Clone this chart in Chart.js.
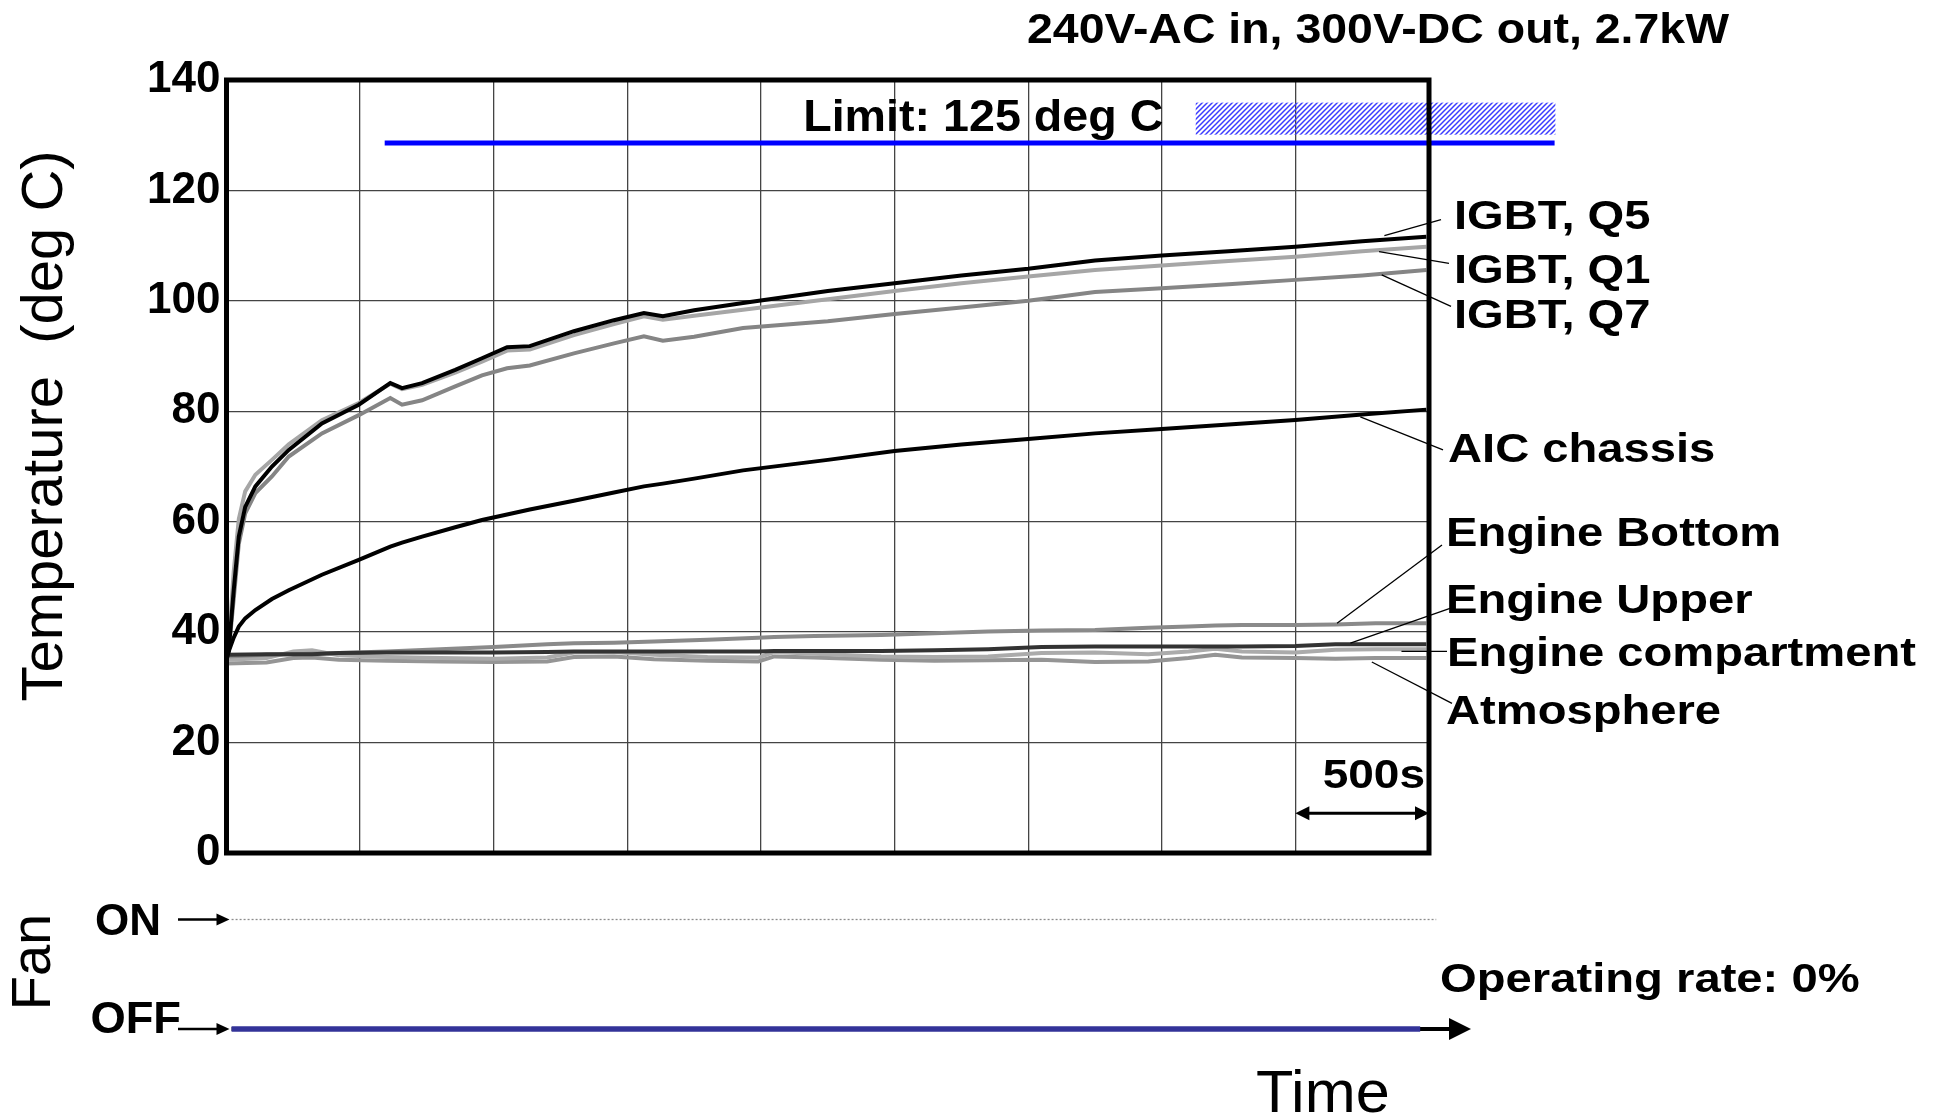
<!DOCTYPE html>
<html>
<head>
<meta charset="utf-8">
<script src="https://cdn.jsdelivr.net/npm/chart.js@4.4.1/dist/chart.umd.min.js"></script>
<style>
  html, body { margin: 0; padding: 0; background: #fff; }
  #page { position: relative; width: 1941px; height: 1117px; overflow: hidden; }
  #tempChart { position: absolute; left: 0; top: 0; }
  #fanChart { position: absolute; left: 0; top: 880px; }
</style>
</head>
<body>
<div id="page">
  <canvas id="tempChart" width="1941" height="900"></canvas>
  <canvas id="fanChart" width="1941" height="237"></canvas>
</div>
<script>
// time in seconds, one grid division = 500 s
var timeHot = [0, 8, 27, 46, 70, 108, 170, 233, 357, 495, 613, 657, 732, 856, 956, 1050, 1135, 1300, 1450, 1562, 1633, 1750, 1933, 2250, 2500, 2750, 3000, 3250, 3500, 3750, 4000, 4250, 4490];
var igbtQ5 = [35.0, 36.5, 47.6, 57.3, 62.7, 66.4, 70.0, 73.0, 77.8, 81.2, 85.1, 84.2, 85.1, 87.5, 89.6, 91.6, 91.8, 94.5, 96.5, 97.8, 97.2, 98.3, 99.6, 101.8, 103.2, 104.6, 105.8, 107.3, 108.2, 109.0, 109.8, 110.8, 111.6];
var igbtQ1 = [35.0, 37.5, 51.0, 60.5, 65.5, 68.5, 71.2, 74.0, 78.4, 81.5, 85.0, 84.0, 84.8, 87.0, 89.0, 91.0, 91.2, 93.8, 95.8, 97.2, 96.6, 97.3, 98.4, 100.3, 101.8, 103.2, 104.4, 105.6, 106.4, 107.2, 108.0, 109.0, 109.8];
var igbtQ7 = [35.0, 36.5, 46.0, 56.0, 61.5, 65.2, 68.2, 71.8, 76.0, 79.3, 82.4, 81.2, 82.0, 84.5, 86.5, 87.8, 88.3, 90.5, 92.3, 93.6, 92.8, 93.5, 95.1, 96.3, 97.6, 98.8, 100.0, 101.6, 102.3, 103.0, 103.8, 104.6, 105.6];
var aicChassis = [35.0, 36.5, 39.0, 41.0, 42.5, 44.0, 46.0, 47.6, 50.4, 53.1, 55.5, 56.2, 57.3, 59.0, 60.3, 61.3, 62.2, 63.8, 65.3, 66.4, 66.9, 67.8, 69.3, 71.2, 72.8, 74.0, 75.0, 76.0, 76.8, 77.6, 78.4, 79.4, 80.3];

var timeLow = [0, 150, 250, 320, 420, 600, 800, 1000, 1200, 1300, 1450, 1600, 1800, 1990, 2050, 2200, 2450, 2650, 2850, 3050, 3250, 3450, 3600, 3700, 3800, 4000, 4150, 4300, 4490];
var engineBottom = [35.6, 35.9, 36.0, 36.1, 36.2, 36.5, 36.9, 37.3, 37.8, 38.0, 38.1, 38.3, 38.6, 39.0, 39.1, 39.3, 39.5, 39.8, 40.1, 40.3, 40.4, 40.8, 41.0, 41.2, 41.3, 41.3, 41.4, 41.6, 41.6];
var engineUpper = [35.9, 36.0, 36.0, 36.0, 36.2, 36.3, 36.3, 36.3, 36.4, 36.5, 36.5, 36.5, 36.5, 36.5, 36.6, 36.6, 36.6, 36.7, 36.9, 37.3, 37.4, 37.4, 37.4, 37.4, 37.4, 37.5, 37.8, 37.8, 37.8];
var engineCompartment = [35.0, 35.3, 36.5, 36.7, 35.8, 35.5, 35.3, 35.2, 35.4, 36.3, 36.4, 35.9, 35.5, 35.4, 36.4, 36.1, 35.6, 35.5, 35.6, 36.2, 36.3, 36.0, 36.5, 37.0, 36.5, 36.3, 36.8, 36.9, 36.9];
var atmosphere = [34.3, 34.5, 35.3, 35.4, 35.0, 34.8, 34.7, 34.6, 34.7, 35.5, 35.6, 35.1, 34.8, 34.7, 35.6, 35.4, 35.0, 34.8, 34.9, 35.0, 34.6, 34.7, 35.3, 35.9, 35.4, 35.3, 35.2, 35.3, 35.3];

// limit marker as drawn in the figure
var limitTime = [592, 4970];
var limitTemp = [128.6, 128.6];
var limitBandTime = [3627, 4973];
var limitBandTemp = [130.1, 135.9];

// fan state: 0 = OFF, 1 = ON
var fanTime = [19, 4467];
var fanState = [0, 0];
var fanOnGuideTime = [19, 4527];

var yTicks = { min: 0, max: 140, step: 20 };
var timeAxis = { min: 0, max: 4500, step: 500 };

var seriesLabels = ['IGBT, Q5', 'IGBT, Q1', 'IGBT, Q7', 'AIC chassis', 'Engine Bottom', 'Engine Upper', 'Engine compartment', 'Atmosphere'];
// label placement: dx from plot right, baseline in deg C, leader start (dx, degC), leader end (s, degC)
var labelLayout = [
  { dx: 25, base: 113.0, from: [12, 114.7], to: [4333, 111.8] },
  { dx: 25, base: 103.2, from: [20, 106.8], to: [4313, 108.9] },
  { dx: 25, base: 95.1, from: [22, 99.0], to: [4323, 104.7] },
  { dx: 19, base: 70.9, from: [14, 73.0], to: [4243, 79.0] },
  { dx: 17, base: 55.6, from: [13, 55.8], to: [4156, 41.6] },
  { dx: 17, base: 43.4, from: [21, 44.3], to: [4206, 38.0] },
  { dx: 18, base: 33.8, from: [18, 36.5], to: [4397, 36.5] },
  { dx: 17, base: 23.4, from: [23, 27.1], to: [4286, 34.6] }
];

var FONT = "'Liberation Sans', Arial, Helvetica, sans-serif";

function pts(times, temps) {
  return times.map(function(t, i) { return { x: t, y: temps[i] }; });
}

function lineSet(label, times, temps, color, width) {
  return {
    label: label,
    data: pts(times, temps),
    borderColor: color,
    borderWidth: width,
    pointRadius: 0,
    fill: false,
    tension: 0
  };
}

function drawText(ctx, text, x, y, o) {
  ctx.save();
  ctx.font = o.font;
  ctx.fillStyle = o.color || '#000';
  ctx.textAlign = o.align || 'left';
  ctx.textBaseline = o.baseline || 'alphabetic';
  ctx.translate(x, y);
  if (o.rotate) ctx.rotate(o.rotate);
  ctx.scale(o.stretch || 1, 1);
  ctx.fillText(text, 0, 0);
  ctx.restore();
}

function arrowHead(ctx, x, y, dir, len, half) {
  ctx.beginPath();
  ctx.moveTo(x, y);
  ctx.lineTo(x - dir * len, y - half);
  ctx.lineTo(x - dir * len, y + half);
  ctx.closePath();
  ctx.fill();
}

function hatchPattern(ctx) {
  var c = document.createElement('canvas');
  c.width = 5; c.height = 5;
  var g = c.getContext('2d');
  g.strokeStyle = '#3b3bff';
  g.lineWidth = 1.5;
  g.beginPath();
  g.moveTo(0, 5); g.lineTo(5, 0);
  g.moveTo(-1, 1); g.lineTo(1, -1);
  g.moveTo(4, 6); g.lineTo(6, 4);
  g.stroke();
  return ctx.createPattern(c, 'repeat');
}

var tempDecor = {
  id: 'tempDecor',
  beforeDatasetsDraw: function(chart) {
    var ctx = chart.ctx, xs = chart.scales.x, ys = chart.scales.y;
    var x1 = xs.getPixelForValue(limitBandTime[0]), x2 = xs.getPixelForValue(limitBandTime[1]);
    var y1 = ys.getPixelForValue(limitBandTemp[1]), y2 = ys.getPixelForValue(limitBandTemp[0]);
    ctx.save();
    ctx.fillStyle = hatchPattern(ctx);
    ctx.fillRect(x1, y1, x2 - x1, y2 - y1);
    ctx.restore();
  },
  afterDraw: function(chart) {
    var ctx = chart.ctx, a = chart.chartArea, xs = chart.scales.x, ys = chart.scales.y;

    // plot frame
    ctx.save();
    ctx.strokeStyle = '#000';
    ctx.lineWidth = 5;
    ctx.strokeRect(a.left, a.top, a.right - a.left, a.bottom - a.top);
    ctx.restore();

    drawText(ctx, '240V-AC in, 300V-DC out, 2.7kW', 1378, 43, { font: 'bold 43px ' + FONT, align: 'center', stretch: 1.08 });
    drawText(ctx, 'Limit: 125 deg C', xs.getPixelForValue(2158), ys.getPixelForValue(130.8), { font: 'bold 44px ' + FONT, stretch: 1.06 });
    drawText(ctx, 'Temperature  (deg C)', 46, 426, { font: '58px ' + FONT, align: 'center', baseline: 'middle', rotate: -Math.PI / 2 });

    // series labels with leader lines
    ctx.save();
    ctx.strokeStyle = '#000';
    ctx.lineWidth = 1.3;
    labelLayout.forEach(function(l) {
      ctx.beginPath();
      ctx.moveTo(a.right + l.from[0], ys.getPixelForValue(l.from[1]));
      ctx.lineTo(xs.getPixelForValue(l.to[0]), ys.getPixelForValue(l.to[1]));
      ctx.stroke();
    });
    ctx.restore();
    labelLayout.forEach(function(l, i) {
      drawText(ctx, seriesLabels[i], a.right + l.dx, ys.getPixelForValue(l.base), { font: 'bold 41px ' + FONT, stretch: 1.15 });
    });

    // 500 s scale bar
    var y = ys.getPixelForValue(7.2);
    var xa = xs.getPixelForValue(timeAxis.max - timeAxis.step), xb = xs.getPixelForValue(timeAxis.max);
    ctx.save();
    ctx.strokeStyle = '#000'; ctx.fillStyle = '#000'; ctx.lineWidth = 3;
    ctx.beginPath(); ctx.moveTo(xa + 8, y); ctx.lineTo(xb - 8, y); ctx.stroke();
    arrowHead(ctx, xa, y, -1, 14, 7);
    arrowHead(ctx, xb, y, 1, 14, 7);
    ctx.restore();
    drawText(ctx, timeAxis.step + 's', a.right - 4, ys.getPixelForValue(11.7), { font: 'bold 40px ' + FONT, align: 'right', stretch: 1.15 });
  }
};

new Chart(document.getElementById('tempChart'), {
  type: 'line',
  data: {
    datasets: [
      lineSet('IGBT, Q5', timeHot, igbtQ5, '#000000', 4),
      lineSet('AIC chassis', timeHot, aicChassis, '#000000', 4),
      lineSet('IGBT, Q1', timeHot, igbtQ1, '#a6a6a6', 4),
      lineSet('IGBT, Q7', timeHot, igbtQ7, '#858585', 4),
      lineSet('Engine Upper', timeLow, engineUpper, '#333333', 4),
      lineSet('Engine Bottom', timeLow, engineBottom, '#8a8a8a', 4),
      lineSet('Engine compartment', timeLow, engineCompartment, '#ababab', 4),
      lineSet('Atmosphere', timeLow, atmosphere, '#959595', 4),
      Object.assign(lineSet('Limit', limitTime, limitTemp, '#0000ff', 5), { clip: false, borderCapStyle: 'butt' })
    ]
  },
  options: {
    responsive: false,
    animation: false,
    devicePixelRatio: 1,
    layout: { padding: { left: 0, top: 80, right: 512, bottom: 47 } },
    plugins: { legend: { display: false }, tooltip: { enabled: false } },
    scales: {
      x: {
        type: 'linear', min: timeAxis.min, max: timeAxis.max,
        ticks: { display: false, stepSize: timeAxis.step },
        grid: { color: '#444', lineWidth: 1.3, drawTicks: false },
        border: { display: false },
        afterFit: function(s) { s.height = 0; }
      },
      y: {
        min: yTicks.min, max: yTicks.max,
        ticks: { stepSize: yTicks.step, color: '#000', padding: 6, font: { family: FONT, size: 44, weight: 'bold' } },
        grid: { color: '#444', lineWidth: 1.3, drawTicks: false },
        border: { display: false },
        afterFit: function(s) { s.width = 226.5; }
      }
    }
  },
  plugins: [tempDecor]
});

var fanDecor = {
  id: 'fanDecor',
  beforeDatasetsDraw: function(chart) {
    var ctx = chart.ctx, a = chart.chartArea, xs = chart.scales.x, ys = chart.scales.y;
    var y = ys.getPixelForValue(0), xEnd = a.right + 42;
    ctx.save();
    ctx.strokeStyle = '#000'; ctx.fillStyle = '#000'; ctx.lineWidth = 4;
    ctx.beginPath(); ctx.moveTo(xs.getPixelForValue(fanTime[0]), y); ctx.lineTo(xEnd - 18, y); ctx.stroke();
    arrowHead(ctx, xEnd, y, 1, 22, 11);
    ctx.restore();
  },
  afterDraw: function(chart) {
    var ctx = chart.ctx, a = chart.chartArea, ys = chart.scales.y;
    var yOn = ys.getPixelForValue(1), yOff = ys.getPixelForValue(0);

    ctx.save();
    ctx.strokeStyle = '#000'; ctx.fillStyle = '#000'; ctx.lineWidth = 2.5;
    [yOn, yOff].forEach(function(y) {
      ctx.beginPath(); ctx.moveTo(178, y); ctx.lineTo(a.left - 8, y); ctx.stroke();
      arrowHead(ctx, a.left + 3, y, 1, 13, 6);
    });
    ctx.restore();

    drawText(ctx, 'ON', 161, yOn + 15.5, { font: 'bold 44px ' + FONT, align: 'right' });
    drawText(ctx, 'OFF', 181, yOff + 4, { font: 'bold 44px ' + FONT, align: 'right', stretch: 1.03 });
    drawText(ctx, 'Fan', 35, 82, { font: '56px ' + FONT, align: 'center', baseline: 'middle', rotate: -Math.PI / 2 });

    var onCount = fanState.filter(function(s) { return s === 1; }).length;
    var rate = Math.round(100 * onCount / fanState.length);
    drawText(ctx, 'Operating rate: ' + rate + '%', a.right + 11, 112, { font: 'bold 40px ' + FONT, stretch: 1.18 });
    drawText(ctx, 'Time', 1256, 232, { font: '60px ' + FONT, stretch: 1.02 });
  }
};

new Chart(document.getElementById('fanChart'), {
  type: 'line',
  data: {
    datasets: [
      Object.assign(lineSet('Fan', fanTime, fanState, '#333399', 5.5), { clip: false, borderCapStyle: 'butt' }),
      Object.assign(lineSet('ON level', fanOnGuideTime, [1, 1], '#8c8c8c', 1.3), { clip: false, borderDash: [2, 2] })
    ]
  },
  options: {
    responsive: false,
    animation: false,
    devicePixelRatio: 1,
    layout: { padding: { left: 226.5, top: 39.5, right: 512, bottom: 88 } },
    plugins: { legend: { display: false }, tooltip: { enabled: false } },
    scales: {
      x: { type: 'linear', min: timeAxis.min, max: timeAxis.max, display: false },
      y: { min: 0, max: 1, display: false }
    }
  },
  plugins: [fanDecor]
});
</script>
</body>
</html>
